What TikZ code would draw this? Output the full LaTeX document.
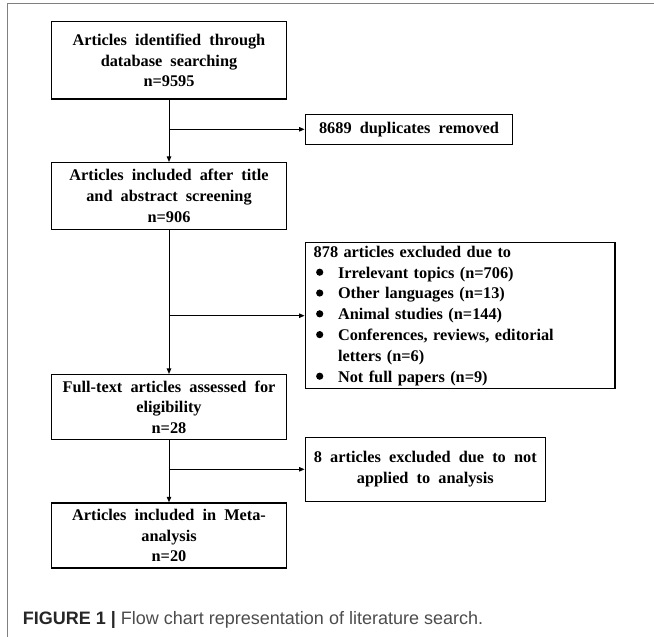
\documentclass[tikz,border=0pt]{standalone}
\usepackage{fontspec}
\setmainfont{Liberation Serif}
\newfontfamily\capfont{Liberation Sans}
\usetikzlibrary{arrows.meta}
\newcommand{\boxfont}{\bfseries\fontsize{16.3}{20.8}\selectfont\spaceskip=0.5em\relax}
\newcommand{\blt}{\makebox[24.3pt][l]{\hspace{2.4pt}\tikz[baseline=-5.8pt]\path[fill=black,draw=none] (0,0) circle (3.6pt);}}
\tikzset{
  box/.style={draw=black, line width=1.5pt, inner sep=0pt, align=center, font=\boxfont},
  conn/.style={draw=black, line width=0.9pt, -{Triangle[length=5.5pt,width=4.5pt]}},
  framed/.style={draw=black!50, line width=1.2pt},
}
\begin{document}
\begin{tikzpicture}[x=1pt,y=-1pt]
\useasboundingbox (0,0) rectangle (654,637);
\draw[framed] (7.3,637) -- (7.3,3.3) -- (654,3.3);

\node[box, minimum width=234.6pt, minimum height=77.3pt] (id) at (169,60.35)
  {Articles identified through\\database searching\\n=9595};
\node[box, minimum width=207.4pt, minimum height=30pt] (dup) at (409,129.3)
  {8689 duplicates removed};
\node[box, minimum width=234.6pt, minimum height=66.6pt] (inc) at (169,196)
  {Articles included after title\\and abstract screening\\n=906};
\node[box, minimum width=309.7pt, minimum height=146pt, text width=292.9pt,
      inner xsep=8.4pt, align=left] (exc) at (460.15,315.7)
  {878 articles excluded due to\\
   \blt Irrelevant topics (n=706)\\
   \blt Other languages (n=13)\\
   \blt Animal studies (n=144)\\
   \blt Conferences, reviews, editorial\\
   \hspace*{24.3pt}letters (n=6)\\
   \blt Not full papers (n=9)};
\node[box, minimum width=234.6pt, minimum height=65pt] (full) at (169,407.2)
  {Full-text articles assessed for\\eligibility\\n=28};
\node[box, minimum width=240pt, minimum height=64pt] (eight) at (425.3,469.3)
  {8 articles excluded due to not\\applied to analysis};
\node[box, minimum width=234.6pt, minimum height=65pt] (meta) at (169,535.5)
  {Articles included in Meta-\\analysis\\n=20};

\draw[conn] (id.south) -- (inc.north);
\draw[conn] (id.south |- dup.west) -- (dup.west);
\draw[conn] (inc.south) -- (full.north);
\draw[conn] (inc.south |- exc.west) -- (exc.west);
\draw[conn] (full.south) -- (meta.north);
\draw[conn] (full.south |- eight.west) -- (eight.west);

\node[anchor=base west, inner sep=0pt, font=\capfont\fontsize{18}{22}\selectfont] (cap) at (22.7,624)
  {\textcolor{black!85}{\bfseries FIGURE 1 |} \textcolor{black!70}{Flow chart representation of literature search.}};
\end{tikzpicture}
\end{document}
